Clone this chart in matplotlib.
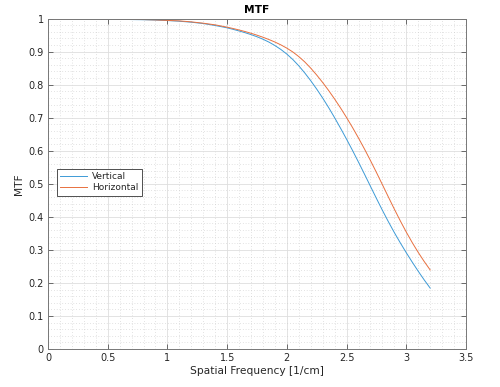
import matplotlib
matplotlib.use("Agg")
import matplotlib.pyplot as plt
from matplotlib.ticker import MultipleLocator, FixedLocator

freq = [0.0, 0.1, 0.2, 0.3, 0.4, 0.5, 0.6, 0.7, 0.8, 0.9, 1.0, 1.1, 1.2, 1.3, 1.4,
        1.5, 1.55, 1.6, 1.65, 1.7, 1.75, 1.8, 1.85, 1.9, 1.95, 2.0, 2.05, 2.1, 2.15,
        2.2, 2.25, 2.3, 2.35, 2.4, 2.45, 2.5, 2.55, 2.6, 2.65, 2.7, 2.75, 2.8, 2.85,
        2.9, 2.95, 3.0, 3.05, 3.1, 3.15, 3.2]
mtf_vertical = [1.000, 1.000, 1.000, 0.9998, 0.9995, 0.999, 0.998, 0.997, 0.9965, 0.9955,
                0.994, 0.992, 0.989, 0.985, 0.979,
                0.972, 0.9674, 0.9625, 0.9573, 0.9515, 0.945, 0.9375, 0.9288, 0.9185, 0.9065,
                0.8925, 0.8761, 0.857, 0.8355, 0.812, 0.7866, 0.7595, 0.7306, 0.700, 0.668,
                0.635, 0.6009, 0.5655, 0.5293, 0.4925, 0.4559, 0.420, 0.3854, 0.3525, 0.3213,
                0.2915, 0.263, 0.2355, 0.2093, 0.1845]
mtf_horizontal = [1.000, 1.000, 1.000, 1.000, 0.9997, 0.9993, 0.9988, 0.998, 0.997, 0.996,
                  0.9945, 0.993, 0.990, 0.986, 0.981,
                  0.974, 0.9699, 0.9655, 0.9608, 0.9555, 0.9498, 0.9435, 0.9366, 0.929, 0.9204,
                  0.9105, 0.8989, 0.885, 0.8688, 0.850, 0.8291, 0.8065, 0.7823, 0.7565, 0.7293,
                  0.7005, 0.6703, 0.6385, 0.6053, 0.5705, 0.5345, 0.4975, 0.4603, 0.4235, 0.3879,
                  0.354, 0.3221, 0.2925, 0.265, 0.2395]
series_names = ["Vertical", "Horizontal"]
x_ticks = [0, 0.5, 1, 1.5, 2, 2.5, 3, 3.5]
x_ticklabels = ["0", "0.5", "1", "1.5", "2", "2.5", "3", "3.5"]
y_ticks = [0, 0.1, 0.2, 0.3, 0.4, 0.5, 0.6, 0.7, 0.8, 0.9, 1]
y_ticklabels = ["0", "0.1", "0.2", "0.3", "0.4", "0.5", "0.6", "0.7", "0.8", "0.9", "1"]

plt.rcParams['font.family'] = ['DejaVu Sans']
fig = plt.figure(figsize=(5.0, 3.87), dpi=100)
ax = fig.add_axes([0.096, 0.098, 0.836, 0.854])

ax.plot(freq, mtf_vertical, color='#3d9ad6', lw=0.7, label=series_names[0])
ax.plot(freq, mtf_horizontal, color='#e8703f', lw=0.7, label=series_names[1])

ax.set_xlim(0, 3.5)
ax.set_ylim(0, 1)
ax.xaxis.set_major_locator(FixedLocator(x_ticks))
ax.set_xticklabels(x_ticklabels)
ax.yaxis.set_major_locator(FixedLocator(y_ticks))
ax.set_yticklabels(y_ticklabels)
ax.xaxis.set_minor_locator(MultipleLocator(0.1))
ax.yaxis.set_minor_locator(MultipleLocator(0.02))

ax.grid(which='major', color='#dedede', lw=0.6, ls='-')
ax.grid(which='minor', color='#c8c8c8', lw=0.5, ls=(0, (1, 3)))
ax.set_axisbelow(True)

tc = '#262626'
ax.tick_params(which='major', direction='in', length=3.5, width=0.6, colors='#555555',
               labelcolor=tc, labelsize=7, top=True, right=True, pad=3)
ax.tick_params(which='minor', length=0, top=True, right=True)
for s in ax.spines.values():
    s.set_color('#777777')
    s.set_linewidth(0.7)

ax.set_xlabel('Spatial Frequency [1/cm]', fontsize=7.7, color=tc, labelpad=2)
ax.set_ylabel('MTF', fontsize=7.7, color=tc, labelpad=3)
ax.set_title('MTF', fontsize=7.7, fontweight='bold', color='black', pad=4)

leg = ax.legend(loc='upper left', bbox_to_anchor=(0.021, 0.546), fontsize=6.5,
                frameon=True, fancybox=False, edgecolor='#333333', framealpha=1,
                handlelength=3.0, borderpad=0.4, labelspacing=0.2, handletextpad=0.5,
                borderaxespad=0)
leg.get_frame().set_linewidth(0.6)
for t in leg.get_texts():
    t.set_color(tc)

fig.savefig('out.png', dpi=100)
